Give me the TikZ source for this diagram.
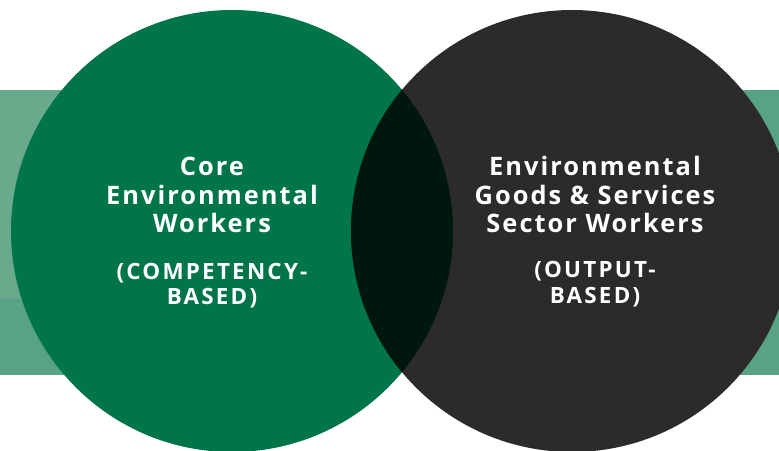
\documentclass[tikz,border=0pt]{standalone}
\usepackage{fontspec}
\setmainfont{Open Sans}
\newfontfamily\lblfont[LetterSpace=8]{Open Sans}
\newfontfamily\subfont[LetterSpace=10]{Open Sans}
\definecolor{cgreen}{HTML}{00754A}
\definecolor{cdark}{HTML}{2B2B2B}
\definecolor{cover}{HTML}{00170D}
\definecolor{bandtop}{HTML}{69AA8D}
\definecolor{bandlow}{HTML}{58A383}
\tikzset{
  mainline/.style={anchor=base, text=white, inner sep=0pt, font=\lblfont\bfseries\fontsize{25.5}{28}\selectfont},
  subline/.style={anchor=base, text=white, inner sep=0pt, font=\subfont\bfseries\fontsize{22.5}{24}\selectfont}
}
\begin{document}
\begin{tikzpicture}[x=1bp,y=-1bp]
\useasboundingbox (0,0) rectangle (779,451);
\clip (0,0) rectangle (779,451);
\fill[white] (0,0) rectangle (779,451);
% bands
\fill[bandtop] (0,90) rectangle (232,299);
\fill[bandlow] (0,299) rectangle (232,375);
\fill[bandlow] (572,90) rectangle (779,375);
% circles
\fill[cgreen] (232,231) circle[radius=221];
\fill[cdark] (572,231) circle[radius=221];
\begin{scope}
  \clip (232,231) circle[radius=221];
  \fill[cover] (572,231) circle[radius=221];
\end{scope}
% left text
\node[mainline] (l1) at (212,176) {Core};
\node[mainline] (l2) at (212,204.3) {Environmental};
\node[mainline] (l3) at (212,232.7) {Workers};
\node[subline] (l4) at (212,280) {(COMPETENCY-};
\node[subline] (l5) at (212,304.3) {BASED)};
% right text
\node[mainline] (r1) at (595,175.5) {Environmental};
\node[mainline] (r2) at (595,204.3) {Goods \& Services};
\node[mainline] (r3) at (595,233) {Sector Workers};
\node[subline] (r4) at (595,277.5) {(OUTPUT-};
\node[subline] (r5) at (595,303.3) {BASED)};
\end{tikzpicture}
\end{document}
